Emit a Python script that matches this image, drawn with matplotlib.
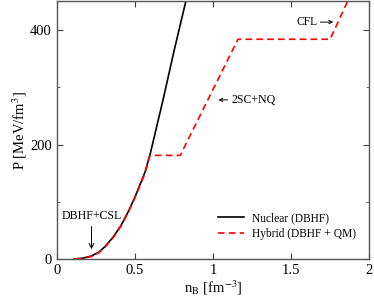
import matplotlib
matplotlib.use("Agg")
import matplotlib.pyplot as plt
from matplotlib.ticker import MultipleLocator

plt.rcParams['font.family'] = ['Liberation Serif', 'DejaVu Serif']
plt.rcParams['mathtext.fontset'] = 'stix'

# Nuclear (DBHF) EoS
nb_nuc = [0.11, 0.16, 0.22, 0.27, 0.31, 0.36, 0.41, 0.46, 0.50, 0.565, 0.60, 0.64, 0.68, 0.75, 0.83]
p_nuc = [0, 1, 5, 12, 22, 38, 58, 84, 108, 152, 186, 232, 278, 363, 455]

# Hybrid (DBHF + QM) EoS
nb_hyb = [0.12, 0.16, 0.22, 0.27, 0.31, 0.36, 0.41, 0.46, 0.50, 0.565, 0.596,
          0.79, 1.16, 1.75, 1.87]
p_hyb = [0, 1, 4, 11, 21, 37, 57, 83, 107, 150, 181,
         181, 384, 384, 455]

fig = plt.figure(figsize=(3.74, 2.99), dpi=100)
ax = fig.add_axes([0.152, 0.134, 0.835, 0.861])

ax.plot(nb_nuc, p_nuc, color='black', lw=1.2, label='Nuclear (DBHF)')
ax.plot(nb_hyb, p_hyb, color='red', lw=1.2, ls=(0, (4, 2.5)), label='Hybrid (DBHF + QM)')

ax.set_xlim(0, 2)
ax.set_ylim(0, 450)
ax.yaxis.set_major_locator(MultipleLocator(200))
ax.yaxis.set_minor_locator(MultipleLocator(100))
ax.set_xticks([0, 0.5, 1, 1.5, 2])
ax.set_xticklabels(['0', '0.5', '1', '1.5', '2'])
ax.tick_params(which='both', direction='in', top=True, right=True, labelsize=10.5,
               color='#444444')
ax.tick_params(which='major', length=4)
ax.tick_params(which='minor', length=2.5)
for s in ax.spines.values():
    s.set_color('#555555')
    s.set_linewidth(1.0)

ax.set_xlabel(r'n$_\mathrm{B}$ [fm$^{-3}$]', fontsize=10.5, labelpad=1)
ax.set_ylabel(r'P [MeV/fm$^3$]', fontsize=10.5, labelpad=1)

ax.annotate('DBHF+CSL', xy=(0.222, 17), xytext=(0.222, 64), fontsize=8.6,
            ha='center', va='bottom',
            arrowprops=dict(arrowstyle='->', color='black', lw=0.7, shrinkA=1, shrinkB=0))
ax.annotate('2SC+NQ', xy=(1.035, 278), xytext=(1.12, 278), fontsize=8.6,
            ha='left', va='center',
            arrowprops=dict(arrowstyle='->', color='black', lw=0.7, shrinkA=1, shrinkB=0,
                            mutation_scale=6))
ax.annotate('CFL', xy=(1.77, 414), xytext=(1.67, 414), fontsize=8.3,
            ha='right', va='center',
            arrowprops=dict(arrowstyle='->', color='black', lw=0.7, shrinkA=0, shrinkB=0,
                            mutation_scale=6))

ax.legend(loc='lower right', bbox_to_anchor=(0.99, 0.035), frameon=False, fontsize=8.3,
          handlelength=2.2, handletextpad=0.7, labelspacing=0.3)

fig.savefig('out.png', dpi=100)
